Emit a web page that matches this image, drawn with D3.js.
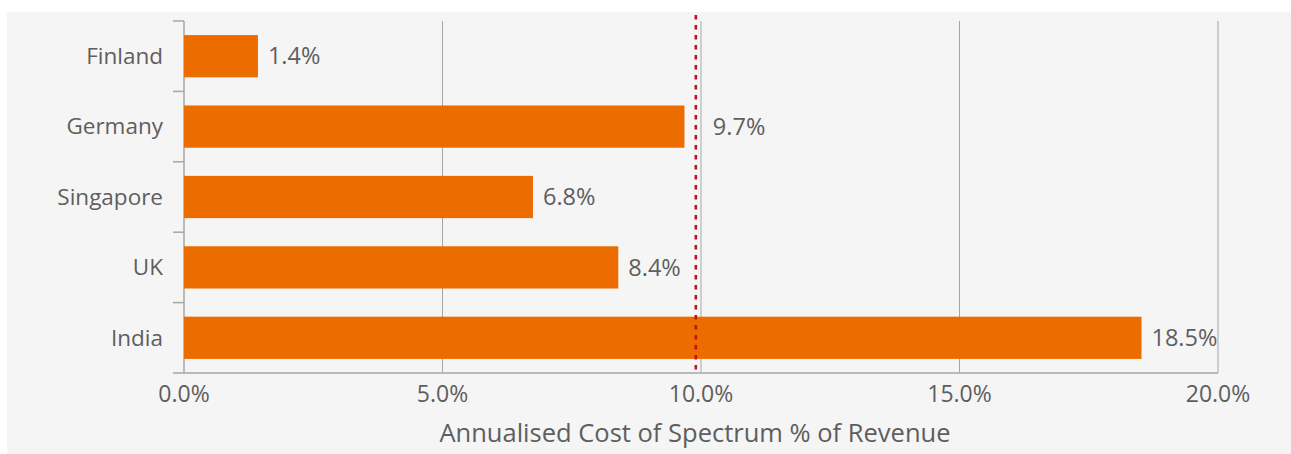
<!DOCTYPE html>
<html>
<head>
<meta charset="utf-8">
<script src="https://cdn.jsdelivr.net/npm/d3@7"></script>
<style>
  html, body { margin: 0; padding: 0; background: #ffffff; }
  svg { display: block; font-family: "Open Sans", "Noto Sans", sans-serif; }
</style>
</head>
<body>
<script>
// data
const countries = ['Finland', 'Germany', 'Singapore', 'UK', 'India'];
const costPct = [1.43, 9.68, 6.75, 8.4, 18.52];
const valueLabels = ['1.4%', '9.7%', '6.8%', '8.4%', '18.5%'];
const xTicks = [0, 5, 10, 15, 20];
const referenceValue = 9.9;
const axisTitle = 'Annualised Cost of Spectrum % of Revenue';

const W = 1291, H = 454;
const margin = { top: 21, right: 73, bottom: 81, left: 184 };
const textColor = '#5e5e5e';
const lineColor = '#a6a6a6';

const svg = d3.select('body').append('svg')
  .attr('width', W).attr('height', H)
  .attr('viewBox', `0 0 ${W} ${H}`);

// panel background
svg.append('rect')
  .attr('x', 7).attr('y', 12)
  .attr('width', W - 7).attr('height', H - 12)
  .attr('fill', '#f5f5f5');

const x = d3.scaleLinear()
  .domain([0, 20])
  .range([margin.left, W - margin.right]);

const y = d3.scaleBand()
  .domain(countries)
  .range([margin.top, H - margin.bottom])
  .paddingInner(0.4)
  .paddingOuter(0.2);

const plotBottom = H - margin.bottom;

// vertical gridlines
svg.append('g')
  .selectAll('line')
  .data(xTicks.slice(1))
  .join('line')
  .attr('x1', d => x(d)).attr('x2', d => x(d))
  .attr('y1', margin.top).attr('y2', plotBottom)
  .attr('stroke', lineColor).attr('stroke-width', 1);

// left axis line with ticks at category boundaries
const boundaries = d3.range(countries.length + 1)
  .map(i => margin.top + i * y.step());
svg.append('line')
  .attr('x1', x(0)).attr('x2', x(0))
  .attr('y1', margin.top).attr('y2', plotBottom)
  .attr('stroke', lineColor).attr('stroke-width', 1.5);
svg.append('g')
  .selectAll('line')
  .data(boundaries.slice(0, -1))
  .join('line')
  .attr('x1', x(0) - 11).attr('x2', x(0))
  .attr('y1', d => d).attr('y2', d => d)
  .attr('stroke', lineColor).attr('stroke-width', 1.5);

// bottom axis line
svg.append('line')
  .attr('x1', x(0) - 11).attr('x2', x(20))
  .attr('y1', plotBottom).attr('y2', plotBottom)
  .attr('stroke', lineColor).attr('stroke-width', 1.5);

// x tick labels
svg.append('g')
  .selectAll('text')
  .data(xTicks)
  .join('text')
  .attr('x', d => x(d))
  .attr('y', 402)
  .attr('text-anchor', 'middle')
  .attr('font-size', 23)
  .attr('fill', textColor)
  .text(d => d3.format('.1f')(d) + '%');

// axis title
svg.append('text')
  .attr('x', (x(0) + x(20)) / 2 - 6)
  .attr('y', 442)
  .attr('text-anchor', 'middle')
  .attr('font-size', 25.5)
  .attr('fill', textColor)
  .text(axisTitle);

// category labels
svg.append('g')
  .selectAll('text')
  .data(countries)
  .join('text')
  .attr('x', 163)
  .attr('y', d => y(d) + y.bandwidth() / 2)
  .attr('dy', '0.35em')
  .attr('text-anchor', 'end')
  .attr('font-size', 22.5)
  .attr('fill', textColor)
  .text(d => d);

// bars
svg.append('g')
  .selectAll('rect')
  .data(countries)
  .join('rect')
  .attr('x', x(0))
  .attr('y', d => y(d))
  .attr('width', (d, i) => x(costPct[i]) - x(0))
  .attr('height', y.bandwidth())
  .attr('fill', '#ec6c00');

// value labels (pushed past the reference line when they would touch it)
svg.append('g')
  .selectAll('text')
  .data(countries)
  .join('text')
  .attr('x', (d, i) => {
    const end = x(costPct[i]);
    const ref = x(referenceValue);
    return (end < ref && ref - end < 20) ? ref + 17 : end + 10;
  })
  .attr('y', d => y(d) + y.bandwidth() / 2)
  .attr('dy', '0.35em')
  .attr('font-size', 23.5)
  .attr('fill', textColor)
  .text((d, i) => valueLabels[i]);

// reference line
svg.append('line')
  .attr('x1', x(referenceValue)).attr('x2', x(referenceValue))
  .attr('y1', 15).attr('y2', plotBottom - 3)
  .attr('stroke', '#c0131f')
  .attr('stroke-width', 2.6)
  .attr('stroke-dasharray', '4.5 5.5');
</script>
</body>
</html>
